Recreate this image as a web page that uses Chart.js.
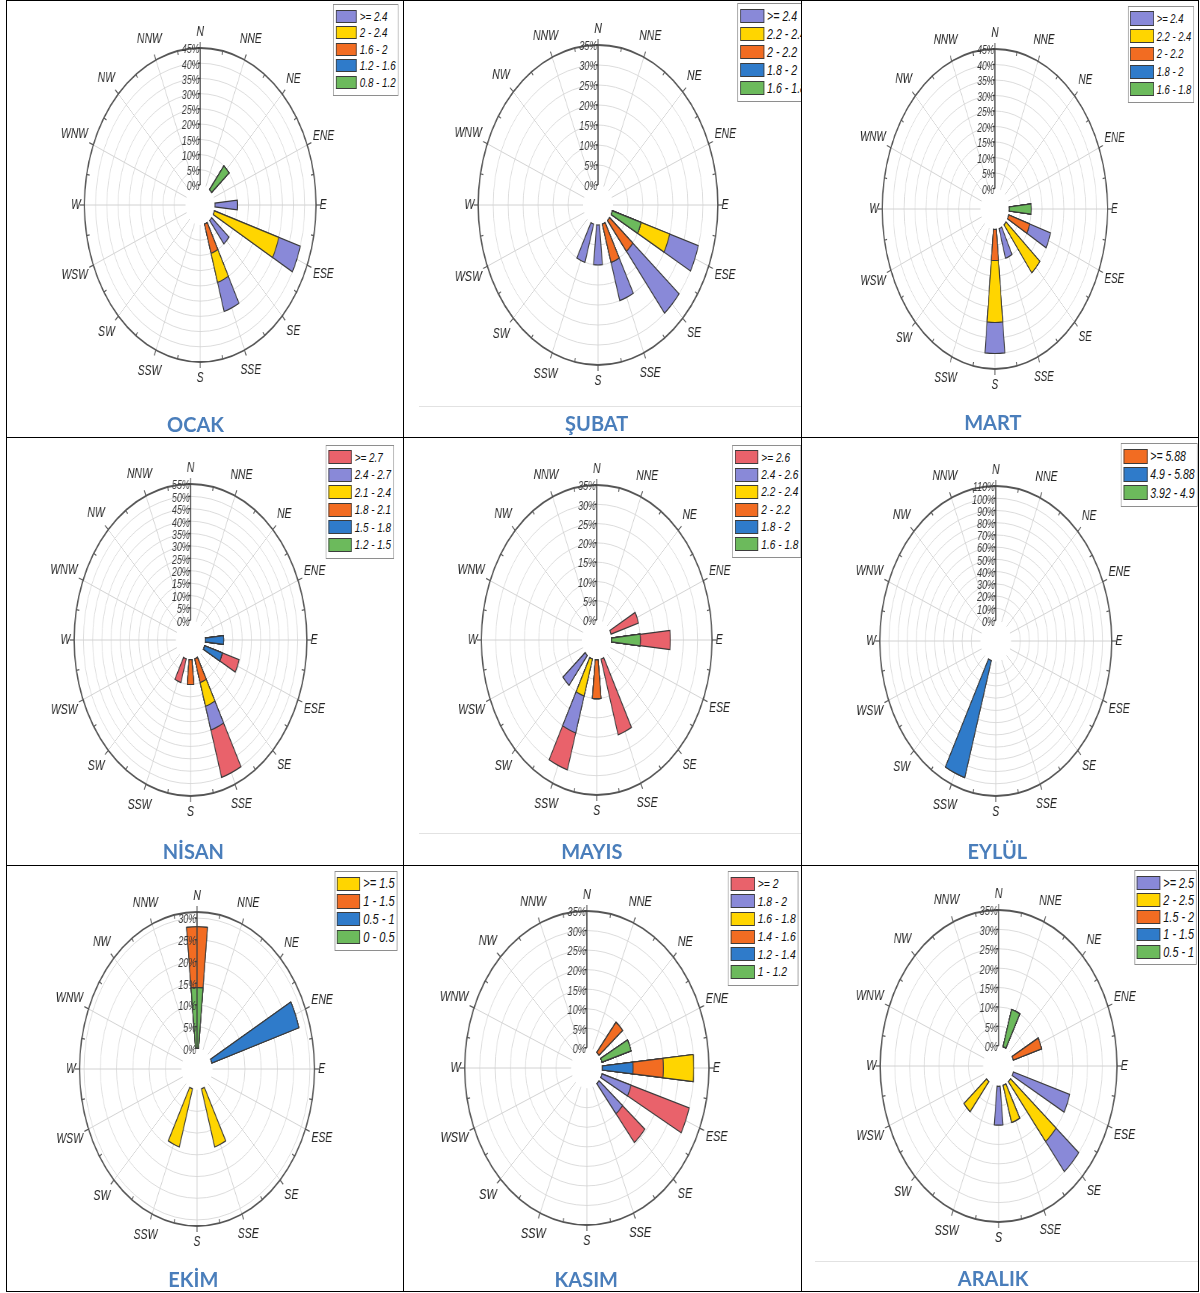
<!DOCTYPE html>
<html>
<head>
<meta charset="utf-8">
<title>Aylık Rüzgar Gülleri</title>
<script src="https://cdn.jsdelivr.net/npm/chart.js@4.4.1/dist/chart.umd.min.js"></script>
<style>
  html, body { margin: 0; padding: 0; background: #fff; }
  #page { position: relative; width: 1200px; height: 1293px; overflow: hidden; background: #fff; }
  .cell { position: absolute; overflow: hidden; }
  .squash { position: absolute; left: 0; top: 0; transform-origin: 0 0; }
  .squash canvas { display: block; }
  .legend { position: absolute; box-sizing: content-box; border: 1.5px solid #8e8e8e; background: #fff;
            font-family: "Liberation Sans", Arial, sans-serif; font-style: italic; color: #111; }
  .legend .row { display: flex; align-items: center; white-space: nowrap; }
  .legend .sw { box-sizing: border-box; border: 1px solid #3c3c3c; flex: none; }
  .legend .tx { line-height: 1; }
  .title { position: absolute; font-family: Lato, "Open Sans", sans-serif; font-weight: 700; font-size: 20px;
           color: #4a7ebb; transform: translate(-50%, -50%); white-space: nowrap; line-height: 1; }
  .rule { position: absolute; background: #000; }
  .sep { position: absolute; height: 1px; background: #e2e2e2; }
</style>
</head>
<body>
<div id="page"></div>
<script>
// ---- Data: frequency (%) of each wind speed class (m/s) per direction ----
const DIRECTIONS = ['N', 'NNE', 'NE', 'ENE', 'E', 'ESE', 'SE', 'SSE', 'S', 'SSW', 'SW', 'WSW', 'W', 'WNW', 'NW', 'NNW'];

// Ocak
const ocakSpeeds = ['0.8 - 1.2', '1.2 - 1.6', '1.6 - 2', '2 - 2.4', '>= 2.4'];
const ocakFreq = [
  //N  NNE NE ENE E  ESE SE SSE S  SSW SW WSW W WNW NW NNW
  [0, 0, 10, 0, 0, 0, 0, 0, 0, 0, 0, 0, 0, 0, 0, 0],
  [0, 0, 0, 0, 0, 0, 0, 0, 0, 0, 0, 0, 0, 0, 0, 0],
  [0, 0, 0, 0, 0, 0, 0, 10, 0, 0, 0, 0, 0, 0, 0, 0],
  [0, 0, 0, 0, 0, 30, 0, 10, 0, 0, 0, 0, 0, 0, 0, 0],
  [0, 0, 0, 0, 10, 10, 10, 10, 0, 0, 0, 0, 0, 0, 0, 0]
];
const ocakTicks = [0, 5, 10, 15, 20, 25, 30, 35, 40, 45];
const ocakMax = 45;

// Şubat
const subatSpeeds = ['1.6 - 1.8', '1.8 - 2', '2 - 2.2', '2.2 - 2.4', '>= 2.4'];
const subatFreq = [
  [0, 0, 0, 0, 0, 10, 0, 0, 0, 0, 0, 0, 0, 0, 0, 0],
  [0, 0, 0, 0, 0, 0, 0, 0, 0, 0, 0, 0, 0, 0, 0, 0],
  [0, 0, 0, 0, 0, 0, 10, 10, 0, 0, 0, 0, 0, 0, 0, 0],
  [0, 0, 0, 0, 0, 10, 0, 0, 0, 0, 0, 0, 0, 0, 0, 0],
  [0, 0, 0, 0, 0, 10, 20, 10, 10, 10, 0, 0, 0, 0, 0, 0]
];
const subatTicks = [0, 5, 10, 15, 20, 25, 30, 35];
const subatMax = 35;

// Mart
const martSpeeds = ['1.6 - 1.8', '1.8 - 2', '2 - 2.2', '2.2 - 2.4', '>= 2.4'];
const martFreq = [
  [0, 0, 0, 0, 10, 0, 0, 0, 0, 0, 0, 0, 0, 0, 0, 0],
  [0, 0, 0, 0, 0, 0, 0, 0, 0, 0, 0, 0, 0, 0, 0, 0],
  [0, 0, 0, 0, 0, 10, 0, 0, 10, 0, 0, 0, 0, 0, 0, 0],
  [0, 0, 0, 0, 0, 0, 20, 0, 20, 0, 0, 0, 0, 0, 0, 0],
  [0, 0, 0, 0, 0, 10, 0, 10, 10, 0, 0, 0, 0, 0, 0, 0]
];
const martTicks = [0, 5, 10, 15, 20, 25, 30, 35, 40, 45];
const martMax = 45;

// Nisan
const nisanSpeeds = ['1.2 - 1.5', '1.5 - 1.8', '1.8 - 2.1', '2.1 - 2.4', '2.4 - 2.7', '>= 2.7'];
const nisanFreq = [
  [0, 0, 0, 0, 0, 0, 0, 0, 0, 0, 0, 0, 0, 0, 0, 0],
  [0, 0, 0, 0, 10, 10, 0, 0, 0, 0, 0, 0, 0, 0, 0, 0],
  [0, 0, 0, 0, 0, 0, 0, 10, 10, 0, 0, 0, 0, 0, 0, 0],
  [0, 0, 0, 0, 0, 0, 0, 10, 0, 0, 0, 0, 0, 0, 0, 0],
  [0, 0, 0, 0, 0, 0, 0, 10, 0, 0, 0, 0, 0, 0, 0, 0],
  [0, 0, 0, 0, 0, 9.5, 0, 20, 0, 10, 0, 0, 0, 0, 0, 0]
];
const nisanTicks = [0, 5, 10, 15, 20, 25, 30, 35, 40, 45, 50, 55];
const nisanMax = 55;

// Mayıs
const mayisSpeeds = ['1.6 - 1.8', '1.8 - 2', '2 - 2.2', '2.2 - 2.4', '2.4 - 2.6', '>= 2.6'];
const mayisFreq = [
  [0, 0, 0, 0, 10, 0, 0, 0, 0, 0, 0, 0, 0, 0, 0, 0],
  [0, 0, 0, 0, 0, 0, 0, 0, 0, 0, 0, 0, 0, 0, 0, 0],
  [0, 0, 0, 0, 0, 0, 0, 0, 10, 0, 0, 0, 0, 0, 0, 0],
  [0, 0, 0, 0, 0, 0, 0, 0, 0, 10, 0, 0, 0, 0, 0, 0],
  [0, 0, 0, 0, 0, 0, 0, 0, 0, 10, 10, 0, 0, 0, 0, 0],
  [0, 0, 0, 10, 10.5, 0, 0, 20.5, 0, 10, 0, 0, 0, 0, 0, 0]
];
const mayisTicks = [0, 5, 10, 15, 20, 25, 30, 35];
const mayisMax = 35;

// Eylül
const eylulSpeeds = ['3.92 - 4.9', '4.9 - 5.88', '>= 5.88'];
const eylulFreq = [
  [0, 0, 0, 0, 0, 0, 0, 0, 0, 0, 0, 0, 0, 0, 0, 0],
  [0, 0, 0, 0, 0, 0, 0, 0, 0, 100, 0, 0, 0, 0, 0, 0],
  [0, 0, 0, 0, 0, 0, 0, 0, 0, 0, 0, 0, 0, 0, 0, 0]
];
const eylulTicks = [0, 10, 20, 30, 40, 50, 60, 70, 80, 90, 100, 110];
const eylulMax = 110;

// Ekim
const ekimSpeeds = ['0 - 0.5', '0.5 - 1', '1 - 1.5', '>= 1.5'];
const ekimFreq = [
  [14, 0, 0, 0, 0, 0, 0, 0, 0, 0, 0, 0, 0, 0, 0, 0],
  [0, 0, 0, 28, 0, 0, 0, 0, 0, 0, 0, 0, 0, 0, 0, 0],
  [14, 0, 0, 0, 0, 0, 0, 0, 0, 0, 0, 0, 0, 0, 0, 0],
  [0, 0, 0, 0, 0, 0, 0, 14, 0, 14, 0, 0, 0, 0, 0, 0]
];
const ekimTicks = [0, 5, 10, 15, 20, 25, 30];
const ekimMax = 31.4;

// Kasım
const kasimSpeeds = ['1 - 1.2', '1.2 - 1.4', '1.4 - 1.6', '1.6 - 1.8', '1.8 - 2', '>= 2'];
const kasimFreq = [
  [0, 0, 0, 10, 0, 0, 0, 0, 0, 0, 0, 0, 0, 0, 0, 0],
  [0, 0, 0, 0, 10, 0, 0, 0, 0, 0, 0, 0, 0, 0, 0, 0],
  [0, 0, 10, 0, 10, 0, 0, 0, 0, 0, 0, 0, 0, 0, 0, 0],
  [0, 0, 0, 0, 10, 0, 0, 0, 0, 0, 0, 0, 0, 0, 0, 0],
  [0, 0, 0, 0, 0, 10, 10, 0, 0, 0, 0, 0, 0, 0, 0, 0],
  [0, 0, 0, 0, 0, 20, 9.5, 0, 0, 0, 0, 0, 0, 0, 0, 0]
];
const kasimTicks = [0, 5, 10, 15, 20, 25, 30, 35];
const kasimMax = 35;

// Aralık
const aralikSpeeds = ['0.5 - 1', '1 - 1.5', '1.5 - 2', '2 - 2.5', '>= 2.5'];
const aralikFreq = [
  [0, 10, 0, 0, 0, 0, 0, 0, 0, 0, 0, 0, 0, 0, 0, 0],
  [0, 0, 0, 0, 0, 0, 0, 0, 0, 0, 0, 0, 0, 0, 0, 0],
  [0, 0, 0, 10, 0, 0, 0, 0, 0, 0, 0, 0, 0, 0, 0, 0],
  [0, 0, 0, 0, 0, 0, 20, 10, 0, 0, 10, 0, 0, 0, 0, 0],
  [0, 0, 0, 0, 0, 20, 10, 0, 10, 0, 0, 0, 0, 0, 0, 0]
];
const aralikTicks = [0, 5, 10, 15, 20, 25, 30, 35];
const aralikMax = 35;

const MONTH_NAMES = ['OCAK', 'ŞUBAT', 'MART', 'NİSAN', 'MAYIS', 'EYLÜL', 'EKİM', 'KASIM', 'ARALIK'];
const MONTH_SPEEDS = [ocakSpeeds, subatSpeeds, martSpeeds, nisanSpeeds, mayisSpeeds, eylulSpeeds, ekimSpeeds, kasimSpeeds, aralikSpeeds];
const MONTH_FREQ = [ocakFreq, subatFreq, martFreq, nisanFreq, mayisFreq, eylulFreq, ekimFreq, kasimFreq, aralikFreq];
const MONTH_TICKS = [ocakTicks, subatTicks, martTicks, nisanTicks, mayisTicks, eylulTicks, ekimTicks, kasimTicks, aralikTicks];
const MONTH_MAX = [ocakMax, subatMax, martMax, nisanMax, mayisMax, eylulMax, ekimMax, kasimMax, aralikMax];

// ---- Styling and layout ----
// speed class colours, lowest class first
const PALETTE = ['#6cba5c', '#2f7bca', '#f26c22', '#ffd500', '#8989d8', '#e9626b'];
const BAR_BORDER = '#3a3a3a';

const COLS = [{ x: 7, w: 396 }, { x: 404, w: 397 }, { x: 802, w: 396 }];
const ROWS = [{ y: 1, h: 436 }, { y: 438, h: 427 }, { y: 866, h: 425 }];

// cx, cy: rose centre on the page; R: outer ring radius; r0: calm hole radius; sx: horizontal squeeze
const PANELS = [
  { col: 0, row: 0, cx: 200.0, cy: 205.0, R: 157, r0: 20.0, sx: 0.7375, lg: { x: 333.0, y: 4.0, pitch: 16.5, sw: 21.0, font: 13.3 }, tt: { x: 195.5, y: 423.5 } },
  { col: 1, row: 0, cx: 598.0, cy: 205.0, R: 160, r0: 20.0, sx: 0.749, lg: { x: 737.3, y: 3.0, pitch: 18.0, sw: 24.0, font: 14.2 }, tt: { x: 596.7, y: 422.7 }, sep: { x1: 419, x2: 801, y: 406 } },
  { col: 2, row: 0, cx: 994.7, cy: 209.0, R: 160, r0: 20.5, sx: 0.704, lg: { x: 1127.7, y: 5.7, pitch: 17.7, sw: 23.3, font: 13.4 }, tt: { x: 992.8, y: 422.3 } },
  { col: 0, row: 1, cx: 190.7, cy: 640.3, R: 156, r0: 19.7, sx: 0.746, lg: { x: 325.7, y: 444.7, pitch: 17.5, sw: 23.3, font: 13.3 }, tt: { x: 193.3, y: 851.3 } },
  { col: 1, row: 1, cx: 596.7, cy: 639.7, R: 155, r0: 20.0, sx: 0.744, lg: { x: 732.3, y: 444.7, pitch: 17.4, sw: 23.3, font: 13.6 }, tt: { x: 591.8, y: 850.7 }, sep: { x1: 419, x2: 801, y: 833 } },
  { col: 2, row: 1, cx: 996.0, cy: 641.3, R: 155, r0: 20.5, sx: 0.748, lg: { x: 1121.0, y: 443.0, pitch: 18.3, sw: 23.6, font: 14.0 }, tt: { x: 997.3, y: 850.7 } },
  { col: 0, row: 2, cx: 196.7, cy: 1069.3, R: 157, r0: 20.7, sx: 0.748, lg: { x: 334.3, y: 871.0, pitch: 17.7, sw: 23.3, font: 14.8 }, tt: { x: 193.3, y: 1279.0 } },
  { col: 1, row: 2, cx: 586.7, cy: 1067.7, R: 157, r0: 20.2, sx: 0.778, lg: { x: 728.0, y: 871.0, pitch: 17.6, sw: 24.0, font: 13.3 }, tt: { x: 586.3, y: 1278.5 } },
  { col: 2, row: 2, cx: 998.7, cy: 1066.0, R: 156, r0: 20.3, sx: 0.759, lg: { x: 1134.3, y: 870.0, pitch: 17.3, sw: 23.3, font: 14.3 }, tt: { x: 993.2, y: 1278.0 }, sep: { x1: 815, x2: 1198, y: 1261 } }
];

// ---- Wind rose frame: calm hole, spokes, outer ring, north axis and compass labels ----
const roseFrame = {
  id: 'roseFrame',
  afterDatasetUpdate(chart, args) {
    const s = chart.scales.r;
    const r0 = s.getDistanceFromCenterForValue(0);
    args.meta.data.forEach(el => { el.innerRadius = r0; });
  },
  beforeDatasetsDraw(chart) {
    const { ctx } = chart;
    const s = chart.scales.r;
    const xc = s.xCenter, yc = s.yCenter;
    const r0 = s.getDistanceFromCenterForValue(0);
    const R = s.getDistanceFromCenterForValue(s.max);
    ctx.save();
    ctx.strokeStyle = '#d2d2d2';
    ctx.lineWidth = 1;
    for (let i = 0; i < 16; i++) {
      const a = i * Math.PI / 8;
      ctx.beginPath();
      ctx.moveTo(xc + r0 * Math.sin(a), yc - r0 * Math.cos(a));
      ctx.lineTo(xc + R * Math.sin(a), yc - R * Math.cos(a));
      ctx.stroke();
    }
    ctx.strokeStyle = '#555555';
    ctx.lineWidth = 1.8;
    ctx.beginPath();
    ctx.arc(xc, yc, R, 0, Math.PI * 2);
    ctx.stroke();
    ctx.lineWidth = 1.2;
    for (let i = 0; i < 32; i++) {
      const a = i * Math.PI / 16;
      const rIn = i % 2 ? R - 4 : R;
      const rOut = i % 2 ? R : R + 6;
      ctx.beginPath();
      ctx.moveTo(xc + rIn * Math.sin(a), yc - rIn * Math.cos(a));
      ctx.lineTo(xc + rOut * Math.sin(a), yc - rOut * Math.cos(a));
      ctx.stroke();
    }
    ctx.restore();
  },
  afterDraw(chart) {
    const { ctx } = chart;
    const s = chart.scales.r;
    const xc = s.xCenter, yc = s.yCenter;
    const r0 = s.getDistanceFromCenterForValue(0);
    const R = s.getDistanceFromCenterForValue(s.max);
    ctx.save();
    // north axis with percentage ticks
    ctx.strokeStyle = '#404040';
    ctx.lineWidth = 1.5;
    ctx.beginPath();
    ctx.moveTo(xc, yc - r0);
    ctx.lineTo(xc, yc - R);
    ctx.stroke();
    ctx.font = 'italic 12px "Liberation Sans", Arial, sans-serif';
    ctx.fillStyle = '#3a3a3a';
    ctx.textAlign = 'right';
    ctx.textBaseline = 'middle';
    s.ticks.forEach(t => {
      const y = yc - s.getDistanceFromCenterForValue(t.value);
      ctx.beginPath();
      ctx.moveTo(xc - 3, y);
      ctx.lineTo(xc, y);
      ctx.stroke();
      ctx.fillText(t.label, xc - 1, y + 2);
    });
    // compass point labels
    ctx.font = 'italic 14px "Liberation Sans", Arial, sans-serif';
    ctx.fillStyle = '#262626';
    ctx.textAlign = 'center';
    DIRECTIONS.forEach((d, i) => {
      const a = i * Math.PI / 8;
      const sn = Math.sin(a), cs = Math.cos(a);
      const hw = ctx.measureText(d).width / 2;
      const dist = R + (5 + hw) * Math.abs(sn) + 16 * Math.abs(cs);
      ctx.fillText(d, xc + dist * sn, yc - dist * cs);
    });
    ctx.restore();
  }
};

// stacked classes are drawn as cumulative wedges; index 0 (lowest class) sits on top
function buildDatasets(speeds, freq) {
  const cum = new Array(DIRECTIONS.length).fill(0);
  return speeds.map((name, c) => {
    const values = [];
    DIRECTIONS.forEach((d, i) => {
      cum[i] += freq[c][i];
      values.push(cum[i] > 0 ? cum[i] : null, null);
    });
    const colour = PALETTE[c];
    return {
      label: name,
      data: values,
      backgroundColor: ctx => (ctx.raw == null ? 'rgba(0,0,0,0)' : colour),
      borderColor: BAR_BORDER,
      borderWidth: ctx => (ctx.raw == null ? 0 : 1.2),
      borderJoinStyle: 'miter'
    };
  });
}

const page = document.getElementById('page');

function addDiv(cls, styles, text) {
  const el = document.createElement('div');
  el.className = cls;
  Object.assign(el.style, styles);
  if (text != null) el.textContent = text;
  page.appendChild(el);
  return el;
}

// table rules
[6, 403, 801, 1198].forEach(x => addDiv('rule', { left: x + 'px', top: '0px', width: '1px', height: '1292px' }));
[0, 437, 865, 1291].forEach(y => addDiv('rule', { left: '6px', top: y + 'px', width: '1193px', height: '1px' }));

const SLOT_LABELS = DIRECTIONS.flatMap(d => [d, '']);

PANELS.forEach((p, k) => {
  const col = COLS[p.col], row = ROWS[p.row];
  const cell = addDiv('cell', { left: col.x + 'px', top: row.y + 'px', width: col.w + 'px', height: row.h + 'px' });
  const Wu = Math.ceil(col.w / p.sx);
  const H = row.h;
  const squash = document.createElement('div');
  squash.className = 'squash';
  Object.assign(squash.style, { width: Wu + 'px', height: H + 'px', transform: `scaleX(${p.sx})` });
  cell.appendChild(squash);

  const canvas = document.createElement('canvas');
  canvas.width = Wu;
  canvas.height = H;
  canvas.style.width = Wu + 'px';
  canvas.style.height = H + 'px';
  squash.appendChild(canvas);

  const cxu = Math.round((p.cx - col.x) / p.sx);
  const cyl = Math.round(p.cy - row.y);
  const R = p.R;
  const max = MONTH_MAX[k];
  const ticks = MONTH_TICKS[k];
  const min = -p.r0 / (R - p.r0) * max;

  new Chart(canvas, {
    type: 'polarArea',
    data: { labels: SLOT_LABELS, datasets: buildDatasets(MONTH_SPEEDS[k], MONTH_FREQ[k]) },
    options: {
      responsive: false,
      animation: false,
      devicePixelRatio: 1,
      events: [],
      layout: { padding: { left: cxu - R, right: Wu - cxu - R, top: cyl - R, bottom: H - cyl - R } },
      plugins: { legend: { display: false }, tooltip: { enabled: false } },
      scales: {
        r: {
          min: min,
          max: max,
          bounds: 'data',
          startAngle: -5.625,
          ticks: { display: false, callback: v => v + '%' },
          pointLabels: { display: false },
          angleLines: { display: false },
          grid: {
            circular: true,
            lineWidth: 1,
            color: ctx => (ctx.tick && ctx.tick.value === 0 ? 'rgba(0,0,0,0)' : '#dcdcdc')
          },
          afterBuildTicks: axis => { axis.ticks = ticks.map(v => ({ value: v })); }
        }
      }
    },
    plugins: [roseFrame]
  });

  // legend box (highest class first)
  const lg = p.lg;
  const legend = document.createElement('div');
  legend.className = 'legend';
  Object.assign(legend.style, {
    left: ((lg.x - col.x) / p.sx) + 'px',
    top: (lg.y - row.y) + 'px',
    padding: `3px ${2 / p.sx}px 4px ${2 / p.sx}px`,
    fontSize: lg.font + 'px'
  });
  const speeds = MONTH_SPEEDS[k];
  for (let c = speeds.length - 1; c >= 0; c--) {
    const rowEl = document.createElement('div');
    rowEl.className = 'row';
    rowEl.style.height = lg.pitch + 'px';
    const sw = document.createElement('div');
    sw.className = 'sw';
    Object.assign(sw.style, { width: (lg.sw / p.sx) + 'px', height: (lg.pitch - 3.5) + 'px', background: PALETTE[c], marginRight: (3 / p.sx) + 'px' });
    const tx = document.createElement('span');
    tx.className = 'tx';
    tx.textContent = speeds[c];
    rowEl.appendChild(sw);
    rowEl.appendChild(tx);
    legend.appendChild(rowEl);
  }
  squash.appendChild(legend);

  if (p.sep) addDiv('sep', { left: p.sep.x1 + 'px', top: p.sep.y + 'px', width: (p.sep.x2 - p.sep.x1) + 'px' });
  addDiv('title', { left: p.tt.x + 'px', top: p.tt.y + 'px' }, MONTH_NAMES[k]);
});
</script>
</body>
</html>
